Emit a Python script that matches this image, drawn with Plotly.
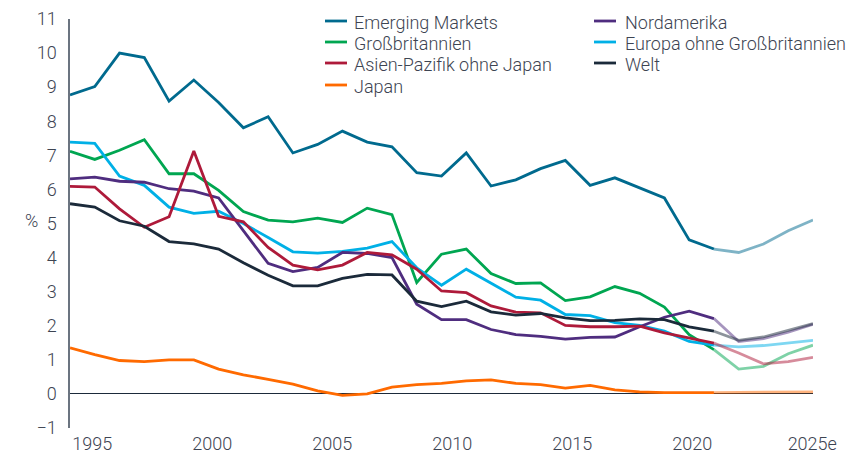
import plotly.graph_objects as go

years = list(range(1995, 2026))
forecast_start = 2021

emerging_markets = [8.77, 9.02, 10.0, 9.87, 8.59, 9.21, 8.55, 7.81, 8.13, 7.07, 7.32, 7.71, 7.39, 7.25, 6.49,
                    6.39, 7.07, 6.10, 6.28, 6.61, 6.85, 6.12, 6.34, 6.05, 5.75, 4.52, 4.25, 4.15, 4.40, 4.79, 5.10]
grossbritannien = [7.12, 6.88, 7.15, 7.46, 6.46, 6.46, 5.97, 5.35, 5.10, 5.05, 5.16, 5.03, 5.45, 5.26, 3.27,
                   4.10, 4.25, 3.53, 3.24, 3.26, 2.74, 2.85, 3.15, 2.95, 2.55, 1.74, 1.30, 0.73, 0.81, 1.18, 1.43]
asien_pazifik = [6.09, 6.07, 5.43, 4.89, 5.20, 7.13, 5.21, 5.05, 4.30, 3.78, 3.64, 3.78, 4.15, 4.08, 3.66,
                 3.02, 2.97, 2.58, 2.40, 2.38, 2.01, 1.97, 1.97, 1.99, 1.79, 1.64, 1.49, 1.20, 0.88, 0.95, 1.07]
japan = [1.35, 1.15, 0.98, 0.95, 1.00, 1.00, 0.73, 0.56, 0.43, 0.29, 0.09, -0.04, 0.00, 0.20, 0.27,
         0.31, 0.38, 0.41, 0.31, 0.27, 0.17, 0.25, 0.12, 0.06, 0.04, 0.04, 0.04, 0.04, 0.05, 0.05, 0.06]
nordamerika = [6.31, 6.36, 6.24, 6.21, 6.02, 5.95, 5.75, 4.80, 3.83, 3.59, 3.71, 4.15, 4.12, 4.00, 2.63,
               2.18, 2.18, 1.89, 1.74, 1.69, 1.61, 1.66, 1.67, 1.97, 2.25, 2.43, 2.21, 1.54, 1.62, 1.81, 2.04]
europa = [7.39, 7.35, 6.39, 6.12, 5.48, 5.30, 5.36, 5.00, 4.59, 4.17, 4.13, 4.18, 4.28, 4.47, 3.70,
          3.19, 3.66, 3.24, 2.84, 2.75, 2.33, 2.30, 2.09, 2.01, 1.84, 1.54, 1.43, 1.38, 1.42, 1.49, 1.57]
welt = [5.58, 5.48, 5.08, 4.92, 4.47, 4.40, 4.25, 3.85, 3.48, 3.17, 3.17, 3.39, 3.51, 3.49, 2.72,
        2.56, 2.72, 2.41, 2.31, 2.36, 2.23, 2.15, 2.16, 2.20, 2.18, 1.97, 1.84, 1.57, 1.67, 1.87, 2.06]

tick_years = [1995, 2000, 2005, 2010, 2015, 2020, 2025]
tick_text = ["1995", "2000", "2005", "2010", "2015", "2020", "2025e"]

series_names = ["Emerging Markets", "Großbritannien", "Europa ohne Großbritannien", "Nordamerika",
                "Asien-Pazifik ohne Japan", "Welt", "Japan"]
series_values = [emerging_markets, grossbritannien, europa, nordamerika, asien_pazifik, welt, japan]
colors = {"Emerging Markets": "#006a8e", "Großbritannien": "#00a651", "Europa ohne Großbritannien": "#00b0e6",
          "Nordamerika": "#4f2d7f", "Asien-Pazifik ohne Japan": "#ae1a3a", "Welt": "#1b2a3a",
          "Japan": "#ff6a00"}
legend_cols = [["Emerging Markets", "Großbritannien", "Asien-Pazifik ohne Japan", "Japan"],
               ["Nordamerika", "Europa ohne Großbritannien", "Welt"]]

FONT = "Roboto"
FS = 18
TXT = "#3d4452"
W, H = 860, 454
PAGE = 8  # the page body offsets the figure by 8px
ML, MR, MT, MB = 62, 55, 3, 34
PLOT_TOP = 11
area_h = H - MT - MB
area_w = W - ML - MR
y_dom_top = (H - MB - PLOT_TOP) / area_h


def px_x(px):
    return (px - PAGE - ML) / area_w


def px_y(py):
    return (H - MB - (py - PAGE)) / area_h


tfont = dict(family=FONT, size=FS, color=TXT, weight=300)

fig = go.Figure()
for name, vals in zip(series_names, series_values):
    color = colors[name]
    hx = [y for y in years if y <= forecast_start]
    hy = [v for y, v in zip(years, vals) if y <= forecast_start]
    fx = [y for y in years if y >= forecast_start]
    fy = [v for y, v in zip(years, vals) if y >= forecast_start]
    fig.add_trace(go.Scatter(x=fx, y=fy, mode="lines", line=dict(color=color, width=2.8),
                             opacity=0.5, showlegend=False, hoverinfo="skip", name=name + " (e)"))
    fig.add_trace(go.Scatter(x=hx, y=hy, mode="lines", name=name, line=dict(color=color, width=2.8),
                             showlegend=False))

# manual two-column legend
shapes, annotations = [], []
col_sample_px = [(325, 347, 353), (594, 616, 624)]
row_px = [21, 42, 63, 85]
for col, (s0, s1, tx) in zip(legend_cols, col_sample_px):
    for r, name in enumerate(col):
        yy = px_y(row_px[r])
        shapes.append(dict(type="line", xref="paper", yref="paper", x0=px_x(s0), x1=px_x(s1), y0=yy, y1=yy,
                           line=dict(color=colors[name], width=2.8)))
        annotations.append(dict(text=name, x=px_x(tx), y=px_y(row_px[r] + 1.5), xref="paper", yref="paper",
                                xanchor="left", yanchor="middle", showarrow=False, borderpad=0, font=tfont))

annotations.append(dict(text="%", x=px_x(23), y=px_y(220), xref="paper", yref="paper", showarrow=False,
                        font=tfont))

# tick labels sit on a slightly compressed scale relative to the data points
tick_pos = [2024.97 - (2025 - t) * 0.969 for t in tick_years]

fig.update_layout(
    width=W, height=H,
    margin=dict(l=ML, r=MR, t=MT, b=MB),
    paper_bgcolor="white", plot_bgcolor="white",
    font=tfont,
    showlegend=False,
    xaxis=dict(range=[1995, 2025], tickvals=tick_pos, ticktext=tick_text, showgrid=False,
               zeroline=False, showline=False, ticks="", ticklabelstandoff=3, automargin=False,
               tickfont=tfont),
    yaxis=dict(range=[-1, 11], dtick=1, domain=[0, y_dom_top], showgrid=False, zeroline=True,
               zerolinecolor="#1b2a3a", zerolinewidth=1.3, showline=True, linecolor="#6b7480",
               linewidth=1.5, ticks="", ticklabelstandoff=8, automargin=False, tickfont=tfont),
    shapes=shapes,
    annotations=annotations,
)

fig.write_html("out.html")
